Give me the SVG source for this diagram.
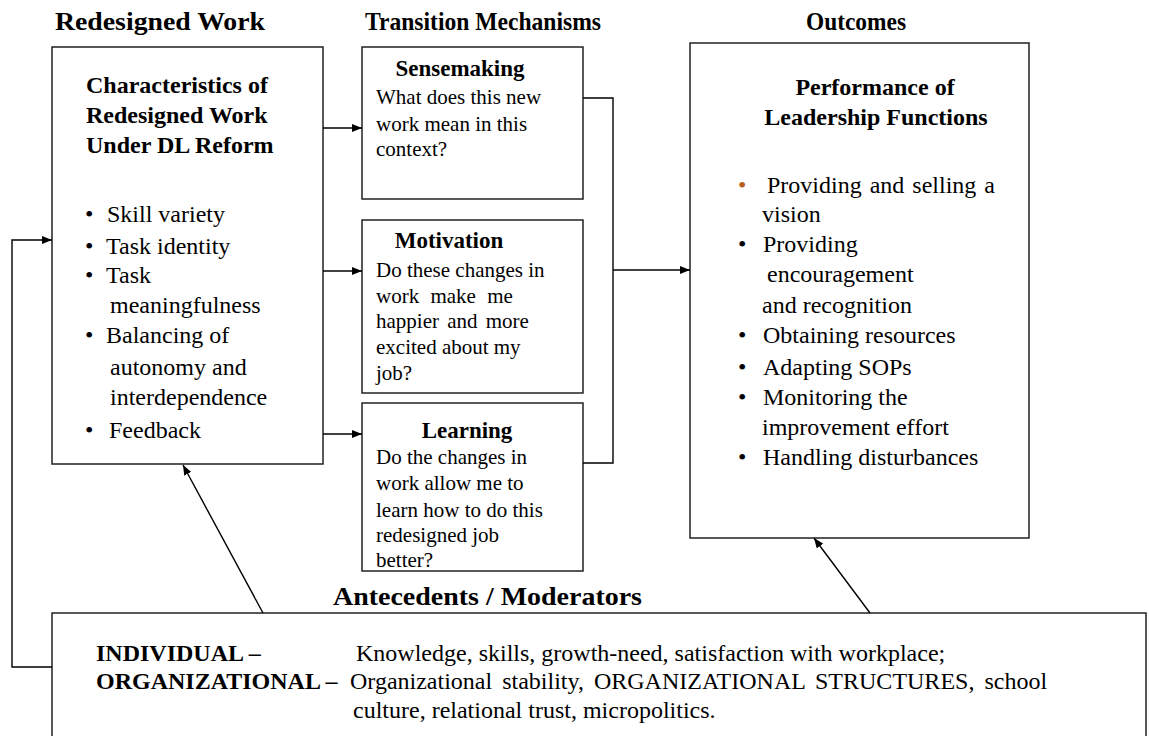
<svg xmlns="http://www.w3.org/2000/svg" width="1149" height="736" viewBox="0 0 1149 736">
<style>
text{font-family:"Liberation Serif","Times New Roman",serif;fill:#000}
.h{font-size:26px;font-weight:bold}
.t{font-size:24px;font-weight:bold}
.b{font-size:24px}
.s{font-size:21px}
.st{font-size:23px;font-weight:bold}
.bt{font-size:24px;font-weight:bold}
.bx{font-size:24px}
.box{fill:#fff;stroke:#222;stroke-width:1.5}
.ln{fill:none;stroke:#000;stroke-width:1.4}
</style>
<defs>
<marker id="ah" viewBox="0 0 10 8" refX="10" refY="4" markerWidth="10" markerHeight="8" markerUnits="userSpaceOnUse" orient="auto">
<path d="M0,0 L10,4 L0,8 Z" fill="#000"/>
</marker>
</defs>
<rect width="1149" height="736" fill="#fff"/>
<g id="headers">
<text class="h" x="55" y="30" textLength="210" lengthAdjust="spacingAndGlyphs">Redesigned Work</text>
<text class="h" x="365" y="30" textLength="236" lengthAdjust="spacingAndGlyphs">Transition Mechanisms</text>
<text class="h" x="806" y="30" textLength="100" lengthAdjust="spacingAndGlyphs">Outcomes</text>
</g>
<g id="redesigned-work">
<rect class="box" x="52" y="47" width="271" height="417"/>
<text class="t" x="86" y="93">Characteristics of</text>
<text class="t" x="86" y="123">Redesigned Work</text>
<text class="t" x="86" y="153">Under DL Reform</text>
<text class="b" x="85" y="222">•</text><text class="b" x="107" y="222">Skill variety</text>
<text class="b" x="85" y="254">•</text><text class="b" x="106" y="254">Task identity</text>
<text class="b" x="85" y="283">•</text><text class="b" x="106" y="283">Task</text>
<text class="b" x="110" y="313">meaningfulness</text>
<text class="b" x="85" y="343">•</text><text class="b" x="106" y="343">Balancing of</text>
<text class="b" x="110" y="375">autonomy and</text>
<text class="b" x="110" y="405">interdependence</text>
<text class="b" x="85" y="438">•</text><text class="b" x="109" y="438">Feedback</text>
</g>
<g id="sensemaking">
<rect class="box" x="362" y="47" width="221" height="152"/>
<text class="st" x="460" y="76" text-anchor="middle">Sensemaking</text>
<text class="s" x="376" y="104">What does this new</text>
<text class="s" x="376" y="131">work mean in this</text>
<text class="s" x="376" y="156">context?</text>
</g>
<g id="motivation">
<rect class="box" x="362" y="220" width="221" height="173"/>
<text class="st" x="449" y="248" text-anchor="middle">Motivation</text>
<text class="s" x="376" y="277">Do these changes in</text>
<text class="s" x="376" y="303" word-spacing="6">work make me</text>
<text class="s" x="376" y="328" word-spacing="3">happier and more</text>
<text class="s" x="376" y="354">excited about my</text>
<text class="s" x="376" y="380">job?</text>
</g>
<g id="learning">
<rect class="box" x="362" y="403" width="221" height="168"/>
<text class="st" x="467" y="438" text-anchor="middle">Learning</text>
<text class="s" x="376" y="464">Do the changes in</text>
<text class="s" x="376" y="490">work allow me to</text>
<text class="s" x="376" y="517">learn how to do this</text>
<text class="s" x="376" y="542">redesigned job</text>
<text class="s" x="376" y="567">better?</text>
</g>
<g id="outcomes">
<rect class="box" x="690" y="43" width="339" height="495"/>
<text class="t" x="875" y="95" text-anchor="middle">Performance of</text>
<text class="t" x="876" y="125" text-anchor="middle">Leadership Functions</text>
<text class="b" x="738" y="193" style="fill:#B45F1E">•</text><text class="b" x="767" y="193" word-spacing="2">Providing and selling a</text>
<text class="b" x="762" y="222">vision</text>
<text class="b" x="738" y="252">•</text><text class="b" x="763" y="252">Providing</text>
<text class="b" x="767" y="282">encouragement</text>
<text class="b" x="762" y="313">and recognition</text>
<text class="b" x="738" y="343">•</text><text class="b" x="763" y="343">Obtaining resources</text>
<text class="b" x="738" y="375">•</text><text class="b" x="763" y="375">Adapting SOPs</text>
<text class="b" x="738" y="405">•</text><text class="b" x="763" y="405">Monitoring the</text>
<text class="b" x="762" y="435">improvement effort</text>
<text class="b" x="738" y="465">•</text><text class="b" x="763" y="465">Handling disturbances</text>
</g>
<g id="antecedents">
<text class="h" x="333" y="605" textLength="309" lengthAdjust="spacingAndGlyphs">Antecedents / Moderators</text>
<rect class="box" x="52" y="613" width="1094" height="140"/>
<text class="bt" x="96" y="661">INDIVIDUAL –</text>
<text class="bx" x="356" y="661">Knowledge, skills, growth-need, satisfaction with workplace;</text>
<text class="bt" x="96" y="689">ORGANIZATIONAL –</text>
<text class="bx" x="350" y="689" word-spacing="4">Organizational stability, ORGANIZATIONAL STRUCTURES, school</text>
<text class="bx" x="353" y="718">culture, relational trust,  micropolitics.</text>
</g>
<g id="connectors">
<line class="ln" x1="323" y1="128" x2="362" y2="128" marker-end="url(#ah)"/>
<line class="ln" x1="323" y1="271" x2="362" y2="271" marker-end="url(#ah)"/>
<line class="ln" x1="323" y1="434" x2="362" y2="434" marker-end="url(#ah)"/>
<path class="ln" d="M583,98 H613 V463 H583"/>
<line class="ln" x1="613" y1="270" x2="690" y2="270" marker-end="url(#ah)"/>
<path class="ln" d="M52,667 H12 V240 H52" marker-end="url(#ah)"/>
<line class="ln" x1="263" y1="613" x2="183" y2="465" marker-end="url(#ah)"/>
<line class="ln" x1="870" y1="613" x2="814" y2="538" marker-end="url(#ah)"/>
</g>
</svg>
